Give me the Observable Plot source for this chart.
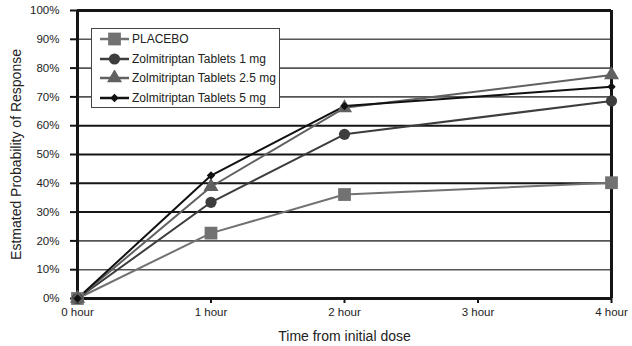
<!DOCTYPE html>
<html>
<head>
<meta charset="utf-8">
<script src="https://cdn.jsdelivr.net/npm/d3@7"></script>
<script src="https://cdn.jsdelivr.net/npm/@observablehq/plot@0.6"></script>
<style>
  html, body { margin: 0; padding: 0; background: #fff; }
  #wrap { position: relative; width: 632px; height: 346px; font-family: "Liberation Sans", Arial, sans-serif; }
  #legend { position: absolute; left: 91px; top: 28px; width: 187px; height: 78px; border: 1px solid #444; background: #fff; box-sizing: content-box; }
  .row { position: absolute; left: 0; height: 20px; display: flex; align-items: center; }
  .row svg { display: block; margin-left: 8px; }
  .row span { font-size: 12px; color: #222; margin-left: 3px; white-space: nowrap; }
</style>
</head>
<body>
<div id="wrap"></div>
<script>
const hours = [0, 1, 2, 4];
const xTicks = [0, 1, 2, 3, 4];
const xTickLabels = ["0 hour", "1 hour", "2 hour", "3 hour", "4 hour"];
const yTicks = [0, 10, 20, 30, 40, 50, 60, 70, 80, 90, 100];
const seriesNames = ["PLACEBO", "Zolmitriptan Tablets 1 mg", "Zolmitriptan Tablets 2.5 mg", "Zolmitriptan Tablets 5 mg"];
const placebo = [0, 22.7, 36.1, 40.2];
const zolm1 = [0, 33.4, 57.0, 68.6];
const zolm25 = [0, 38.8, 66.2, 77.6];
const zolm5 = [0, 42.7, 66.8, 73.5];
const seriesColors = ["#727272", "#3d3d3d", "#616161", "#111111"];
const seriesSymbols = ["square", "circle", "triangle", "diamond2"];
const seriesR = [7.2, 5.6, 5.6, 3.8];

const allValues = [placebo, zolm1, zolm25, zolm5];
const data = [];
allValues.forEach((vals, si) => {
  vals.forEach((v, i) => data.push({series: seriesNames[si], si, hour: hours[i], value: v}));
});
const gridTicks = yTicks.filter(t => t > 0 && t < 100);

const plot = Plot.plot({
  width: 632,
  height: 346,
  marginLeft: 77,
  marginRight: 21,
  marginTop: 10,
  marginBottom: 48,
  style: {fontFamily: "'Liberation Sans', Arial, sans-serif", fontSize: "11.5px", color: "#222", background: "#fff"},
  x: {domain: [0, 4]},
  y: {domain: [0, 100]},
  marks: [
    Plot.ruleY(gridTicks, {y: d => d, stroke: d => (d >= 30 && d <= 60) ? "#151515" : "#555", strokeWidth: d => (d >= 30 && d <= 60) ? 2 : 1.6}),
    Plot.ruleY([0, 100], {stroke: "#151515", strokeWidth: 3}),
    Plot.ruleX([0, 4], {stroke: "#151515", strokeWidth: 3}),
    Plot.axisY({ticks: yTicks, tickFormat: d => d + "%", tickSize: 7, tickPadding: 11, stroke: "#151515", strokeWidth: 2, label: null, fontSize: 11.5}),
    Plot.axisX({ticks: xTicks, tickFormat: d => xTickLabels[xTicks.indexOf(d)], tickSize: 5, tickPadding: 4, stroke: "#151515", strokeWidth: 2, label: null, fontSize: 11.5}),
    Plot.text(["Estmated Probability of Response"], {frameAnchor: "left", textAnchor: "middle", lineAnchor: "middle", dx: -61, rotate: -90, fontSize: 14, fill: "#222"}),
    Plot.text(["Time from initial dose"], {frameAnchor: "bottom", lineAnchor: "middle", dy: 38, fontSize: 14, fill: "#222"}),
    Plot.line(data, {x: "hour", y: "value", z: "series", stroke: d => seriesColors[d.si], strokeWidth: 2}),
    ...seriesNames.map((name, si) =>
      Plot.dot(data.filter(d => d.si === si), {x: "hour", y: "value", symbol: seriesSymbols[si], r: seriesR[si], fill: seriesColors[si], stroke: "none"})
    )
  ]
});
document.getElementById("wrap").appendChild(plot);

// legend
const legend = document.createElement("div");
legend.id = "legend";
const symMap = {square: d3.symbolSquare, circle: d3.symbolCircle, triangle: d3.symbolTriangle, diamond2: d3.symbolDiamond2};
seriesNames.forEach((name, si) => {
  const row = document.createElement("div");
  row.className = "row";
  row.style.top = (si * 19.7) + "px";
  const svg = d3.create("svg").attr("width", 29).attr("height", 16);
  svg.append("line").attr("x1", 0).attr("x2", 29).attr("y1", 8).attr("y2", 8).attr("stroke", seriesColors[si]).attr("stroke-width", 2.5);
  svg.append("path").attr("transform", "translate(14.5,8)").attr("d", d3.symbol(symMap[seriesSymbols[si]], Math.PI * seriesR[si] * seriesR[si])()).attr("fill", seriesColors[si]);
  row.appendChild(svg.node());
  const span = document.createElement("span");
  span.textContent = name;
  row.appendChild(span);
  legend.appendChild(row);
});
document.getElementById("wrap").appendChild(legend);
</script>
</body>
</html>
